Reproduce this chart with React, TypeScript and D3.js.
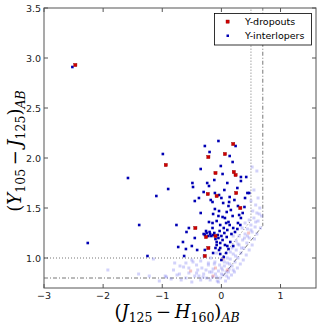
import * as d3 from "d3";

// Y-dropouts (red squares)
const dropouts: [number, number][] = [
  [-2.47, 2.93], [0.2, 2.14], [-0.22, 2.01], [0.06, 2.04], [-0.94, 1.93],
  [-0.1, 1.85], [0.21, 1.86], [0.24, 1.83], [-0.23, 1.64], [-0.08, 1.62],
  [0.25, 1.65], [0.32, 1.5], [-0.44, 1.3], [-0.26, 1.21], [-0.1, 1.22],
  [-0.22, 1.1], [-0.28, 1.02],
];

// Y-interlopers (blue dots)
const interlopers: [number, number][] = [
  [-2.52, 2.91], [-0.99, 2.04], [-0.28, 2.12], [-0.05, 2.17], [0.24, 2.12],
  [-0.2, 2.06], [0.14, 2.02], [-1.58, 1.8], [-1.1, 1.62], [-1.39, 1.33],
  [-2.26, 1.15], [-1.25, 1.02], [-0.9, 1.69], [-0.76, 1.33], [-0.59, 1.26],
  [-0.35, 1.89], [-0.01, 1.92], [0.19, 1.96], [0.02, 1.84], [0.33, 1.81],
  [0.42, 1.81], [0.33, 1.77], [-0.49, 1.75], [-0.48, 1.71], [-0.24, 1.75],
  [-0.21, 1.72], [-0.3, 1.66], [-0.38, 1.6], [-0.11, 1.65], [-0.04, 1.63],
  [0.14, 1.61], [0.44, 1.65], [0.47, 1.65], [-0.45, 1.57], [-0.15, 1.56],
  [0.03, 1.55], [0.13, 1.56], [0.28, 1.52], [0.39, 1.51], [-0.11, 1.49],
  [-0.04, 1.47], [0.09, 1.46], [-0.14, 1.44], [0.19, 1.42], [0.3, 1.43],
  [0.33, 1.4], [0.02, 1.41], [-0.21, 1.36], [-0.15, 1.35], [-0.08, 1.37],
  [0.08, 1.35], [0.12, 1.36], [0.14, 1.33], [-0.26, 1.27], [-0.19, 1.24],
  [-0.14, 1.23], [-0.05, 1.2], [0.02, 1.18], [0.09, 1.21], [0.17, 1.24],
  [0.23, 1.26], [-0.02, 1.15], [-0.08, 1.13], [0.06, 1.13], [0.15, 1.16],
  [-0.41, 1.08], [-0.28, 1.08], [-0.73, 1.11], [-0.63, 1.02], [-0.14, 1.05],
  [-0.04, 1.08], [-0.02, 1.04], [0.04, 1.01], [0.12, 1.09], [0.2, 1.12],
  [0.0, 0.98], [-0.6, 1.09], [-0.3, 1.24], [-0.28, 1.23], [-0.25, 1.25],
  [-0.22, 1.22], [-0.2, 1.26], [-0.17, 1.22], [-0.12, 1.25], [-0.1, 1.19],
  [-0.06, 1.23], [-0.03, 1.27], [0.0, 1.22], [0.05, 1.25], [-0.08, 1.16],
  [0.1, 1.28], [-0.15, 1.3], [0.04, 1.3], [-0.02, 1.33], [0.06, 1.4],
  [-0.05, 1.42], [0.16, 1.48], [0.12, 1.52], [-0.18, 1.58], [0.0, 1.6],
  [0.22, 1.58], [0.27, 1.7], [0.1, 1.75], [-0.12, 1.78], [0.05, 1.68],
  [0.2, 1.3], [0.28, 1.35], [0.36, 1.45], [0.4, 1.6], [-0.35, 1.45],
  [-0.45, 1.2], [-0.55, 1.3], [-0.65, 1.16], [-0.5, 1.12], [-0.02, 1.1],
  [0.08, 1.05], [0.1, 1.12], [-0.1, 1.1], [0.27, 1.29], [0.32, 1.33],
];

// faint background points (blue and red)
const faintBlue: [number, number][] = [
  [0.6, 1.87], [0.52, 1.91], [0.55, 1.68], [0.62, 1.6], [0.5, 1.57],
  [0.58, 1.53], [0.65, 1.5], [0.53, 1.47], [0.6, 1.45], [0.68, 1.42],
  [0.55, 1.4], [0.47, 1.38], [0.62, 1.37], [0.5, 1.33], [0.57, 1.31],
  [0.66, 1.3], [0.44, 1.29], [0.52, 1.26], [0.6, 1.24], [0.4, 1.24],
  [0.47, 1.2], [0.56, 1.19], [0.36, 1.18], [0.43, 1.15], [0.52, 1.13],
  [0.3, 1.13], [0.38, 1.1], [0.47, 1.08], [0.25, 1.08], [0.33, 1.05],
  [0.42, 1.03], [0.2, 1.04], [0.28, 1.0], [0.37, 0.98], [0.15, 0.99],
  [0.23, 0.96], [0.32, 0.94], [0.1, 0.95], [0.18, 0.92], [0.27, 0.9],
  [0.05, 0.92], [0.13, 0.89], [0.22, 0.86], [0.0, 0.9], [0.08, 0.86],
  [0.17, 0.83], [-0.05, 0.87], [0.03, 0.83], [0.12, 0.8], [-0.1, 0.84],
  [-0.02, 0.8], [0.07, 0.77], [-0.15, 0.81], [-0.07, 0.77], [-0.2, 0.86],
  [-0.25, 0.8], [-0.3, 0.84], [-0.35, 0.78], [-0.4, 0.88], [-0.45, 0.82],
  [-0.5, 0.76], [-0.55, 0.85], [-0.6, 0.8], [-0.68, 0.78], [-0.75, 0.83],
  [-0.85, 0.79], [-0.95, 0.82], [-1.05, 0.77], [-0.6, 0.95], [-0.5, 0.98],
  [-0.42, 0.93], [-0.35, 0.97], [-0.3, 1.02], [-0.22, 0.95], [-0.18, 1.0],
  [-0.12, 0.94], [-0.08, 1.05], [0.25, 1.17], [0.3, 1.22], [0.18, 1.1],
  [0.35, 1.3], [0.4, 1.35], [0.2, 1.22], [-1.92, 0.88], [-1.4, 0.84],
  [-1.22, 0.82], [-1.15, 0.99], [-0.93, 0.81], [-0.79, 0.95], [-0.81, 0.88],
  [-0.64, 0.91], [-0.71, 0.84], [-0.48, 0.96], [-0.42, 0.85], [-0.33, 0.9],
  [-0.31, 0.81], [-0.22, 0.93], [-0.16, 0.86], [-0.11, 0.96], [-0.08, 0.81],
  [0.1, 1.0], [0.05, 0.96], [0.14, 0.94], [0.24, 1.02], [0.34, 1.1],
  [0.44, 1.22], [0.5, 1.28], [0.58, 1.36], [0.64, 1.44], [0.02, 0.88],
  [-0.03, 0.93], [0.09, 0.82], [0.2, 0.88], [-0.14, 0.89], [-0.26, 0.88],
  [-0.38, 0.82], [-0.55, 0.9], [-0.7, 0.92], [0.15, 1.06], [0.28, 1.14],
  [0.39, 1.2], [0.12, 0.86], [-0.05, 0.76], [0.0, 0.84], [-0.19, 0.78],
];

const faintRed: [number, number][] = [
  [0.03, 0.99], [-0.52, 0.87], [-0.1, 0.9], [-0.14, 0.82], [0.46, 1.25],
  [0.1, 0.88],
];

const xTicks = [-3, -2, -1, 0, 1];
const yTicks = [1.0, 1.5, 2.0, 2.5, 3.0, 3.5];

// selection boxes: horizontal floor, slope 0.75, vertical J-H limit
const boxA = { floor: 1.0, slope: 0.75, xMax: 0.5 };
const boxB = { floor: 0.8, slope: 0.75, xMax: 0.7 };

const W = 319;
const H = 327;
const left = 44;
const right = 316;
const top = 8;
const bottom = 288;

export default function App() {
  const x = d3.scaleLinear().domain([-3, 1.6]).range([left, right]);
  const y = d3.scaleLinear().domain([0.7, 3.5]).range([bottom, top]);

  const boxPath = (b: typeof boxA) => {
    const pts: [number, number][] = [
      [-3, b.floor],
      [0, b.floor],
      [b.xMax, b.floor + b.slope * b.xMax],
      [b.xMax, 3.5],
    ];
    return d3.line<[number, number]>().x((d) => x(d[0])).y((d) => y(d[1]))(pts) || "";
  };

  const tickFont = { fontFamily: "DejaVu Sans", fontSize: 9.5, fill: "#222" };
  const sub = 12.5;

  return (
    <svg width={W} height={H} style={{ position: "absolute", left: 0, top: 0, background: "#fff" }}>
      <rect x={0} y={0} width={W} height={H} fill="#fff" />
      <defs>
        <clipPath id="plot">
          <rect x={left} y={top} width={right - left} height={bottom - top} />
        </clipPath>
      </defs>

      <g clipPath="url(#plot)">
        <path d={boxPath(boxA)} fill="none" stroke="#777" strokeWidth={1} strokeDasharray="1 2" />
        <path d={boxPath(boxB)} fill="none" stroke="#777" strokeWidth={1} strokeDasharray="4 2 1 2" />

        {faintBlue.map((d, i) => (
          <rect key={"fb" + i} x={x(d[0]) - 1.5} y={y(d[1]) - 1.5} width={3} height={3}
            fill="#6a6af0" fillOpacity={0.3} />
        ))}
        {faintRed.map((d, i) => (
          <rect key={"fr" + i} x={x(d[0]) - 1.5} y={y(d[1]) - 1.5} width={3} height={3}
            fill="#e04040" fillOpacity={0.3} />
        ))}
        {interlopers.map((d, i) => (
          <rect key={"b" + i} x={x(d[0]) - 1.3} y={y(d[1]) - 1.3} width={2.6} height={2.6}
            fill="#0000b4" />
        ))}
        {dropouts.map((d, i) => (
          <rect key={"r" + i} x={x(d[0]) - 1.6} y={y(d[1]) - 1.6} width={3.2} height={3.2}
            fill="#d00000" stroke="#900000" strokeWidth={0.4} />
        ))}
      </g>

      {/* frame */}
      <rect x={left} y={top} width={right - left} height={bottom - top} fill="none" stroke="#555" strokeWidth={1} />

      {xTicks.map((t) => (
        <g key={"xt" + t}>
          <line x1={x(t)} x2={x(t)} y1={bottom} y2={bottom - 4} stroke="#555" />
          <line x1={x(t)} x2={x(t)} y1={top} y2={top + 4} stroke="#555" />
          <text x={x(t)} y={bottom + 11} textAnchor="middle" {...tickFont}>
            {t < 0 ? "\u2212" + Math.abs(t) : String(t)}
          </text>
        </g>
      ))}
      {yTicks.map((t) => (
        <g key={"yt" + t}>
          <line x1={left} x2={left + 4} y1={y(t)} y2={y(t)} stroke="#555" />
          <line x1={right} x2={right - 4} y1={y(t)} y2={y(t)} stroke="#555" />
          <text x={left - 3} y={y(t) + 3.5} textAnchor="end" {...tickFont}>
            {t.toFixed(1)}
          </text>
        </g>
      ))}

      {/* legend */}
      <rect x={214.5} y={13.5} width={97} height={31.5} fill="#fff" stroke="#000" strokeWidth={0.8} />
      <rect x={226} y={20} width={3.2} height={3.2} fill="#d00000" stroke="#900000" strokeWidth={0.4} />
      <text x={245} y={25} fontFamily="DejaVu Sans" fontSize={9.5} fill="#000">Y-dropouts</text>
      <rect x={226.5} y={34.5} width={2.5} height={2.5} fill="#0000b4" />
      <text x={245} y={39} fontFamily="DejaVu Sans" fontSize={9.5} fill="#000">Y-interlopers</text>

      {/* axis labels */}
      <text x={177} y={318} textAnchor="middle" fontFamily="DejaVu Serif" fontSize={18} fill="#000">
        (<tspan fontStyle="italic">J</tspan>
        <tspan fontSize={sub} dy={4}>125</tspan>
        <tspan dy={-4}>{"\u2009\u2212\u2009"}</tspan>
        <tspan fontStyle="italic">H</tspan>
        <tspan fontSize={sub} dy={4}>160</tspan>
        <tspan dy={-4}>)</tspan>
        <tspan fontSize={sub} dy={4} fontStyle="italic">AB</tspan>
      </text>
      <text transform="translate(21,151) rotate(-90)" textAnchor="middle" fontFamily="DejaVu Serif" fontSize={18} fill="#000">
        (<tspan fontStyle="italic">Y</tspan>
        <tspan fontSize={sub} dy={4}>105</tspan>
        <tspan dy={-4}>{"\u2009\u2212\u2009"}</tspan>
        <tspan fontStyle="italic">J</tspan>
        <tspan fontSize={sub} dy={4}>125</tspan>
        <tspan dy={-4}>)</tspan>
        <tspan fontSize={sub} dy={4} fontStyle="italic">AB</tspan>
      </text>
    </svg>
  );
}
